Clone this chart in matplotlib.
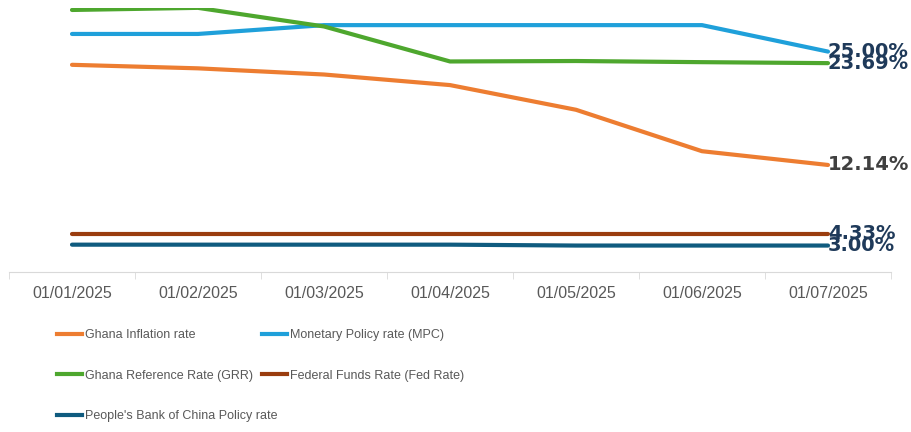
import matplotlib.pyplot as plt
from matplotlib.lines import Line2D
import numpy as np

dates = ["01/01/2025", "01/02/2025", "01/03/2025", "01/04/2025",
         "01/05/2025", "01/06/2025", "01/07/2025"]
ghana_inflation = [23.5, 23.1, 22.4, 21.2, 18.4, 13.7, 12.14]
mpc_rate = [27.0, 27.0, 28.0, 28.0, 28.0, 28.0, 25.0]
grr_rate = [29.72, 29.96, 27.85, 23.88, 23.93, 23.80, 23.69]
fed_rate = [4.33, 4.33, 4.33, 4.33, 4.33, 4.33, 4.33]
pboc_rate = [3.10, 3.10, 3.10, 3.10, 3.00, 3.00, 3.00]

series = [
    ("Ghana Inflation rate", ghana_inflation, "#ED7D31", "#404040"),
    ("Monetary Policy rate (MPC)", mpc_rate, "#1FA0DA", "#1F3A5A"),
    ("Ghana Reference Rate (GRR)", grr_rate, "#4EA72E", "#1F3A5A"),
    ("Federal Funds Rate (Fed Rate)", fed_rate, "#9A3D0F", "#1F3A5A"),
    ("People's Bank of China Policy rate", pboc_rate, "#0F5B7F", "#1F3A5A"),
]

fig = plt.figure(figsize=(9.12, 4.32), dpi=100)
ax = fig.add_axes([9 / 912, 160 / 432, 882 / 912, 264.5 / 432])

x = np.arange(len(dates))
handles = {}
for nom, vals, cor, cor_txt in series:
    (ln,) = ax.plot(x, vals, color=cor, lw=3, solid_capstyle="round",
                    solid_joinstyle="round", label=nom)
    handles[nom] = ln
    # rótulo do último valor, colado ao fim da linha (como no original)
    ax.annotate(f"{vals[-1]:.2f}%", (x[-1], vals[-1]), xytext=(0, 0),
                textcoords="offset points", ha="left", va="center",
                fontsize=14, fontweight="bold", color=cor_txt,
                family="DejaVu Sans")

ax.set_xlim(-0.5, len(dates) - 0.5)
ax.set_ylim(0, 30)
for lado in ["top", "right", "left"]:
    ax.spines[lado].set_visible(False)
ax.spines["bottom"].set_color("#D9D9D9")
ax.set_yticks([])
ax.set_xticks(x)
ax.set_xticklabels(dates, fontsize=11.5, color="#595959", family="Liberation Sans")
ax.set_xticks(np.arange(-0.5, len(dates)), minor=True)
ax.tick_params(axis="x", which="major", length=0, pad=10)
ax.tick_params(axis="x", which="minor", length=5, color="#D9D9D9")


def leg_handle(nome):
    return Line2D([], [], color=handles[nome].get_color(), lw=3)


col1 = ["Ghana Inflation rate", "Ghana Reference Rate (GRR)",
        "People's Bank of China Policy rate"]
col2 = ["Monetary Policy rate (MPC)", "Federal Funds Rate (Fed Rate)"]

kw = dict(frameon=False, loc="upper left", handlelength=2.0,
          handletextpad=0.25, labelspacing=2.3, borderpad=0,
          borderaxespad=0, labelcolor="#595959",
          prop={"family": "Liberation Sans", "size": 9})
leg1 = fig.legend([leg_handle(n) for n in col1], col1,
                  bbox_to_anchor=(57 / 912, 1 - 329 / 432), **kw)
leg2 = fig.legend([leg_handle(n) for n in col2], col2,
                  bbox_to_anchor=(262 / 912, 1 - 329 / 432), **kw)

fig.savefig("out.png", dpi=100)
